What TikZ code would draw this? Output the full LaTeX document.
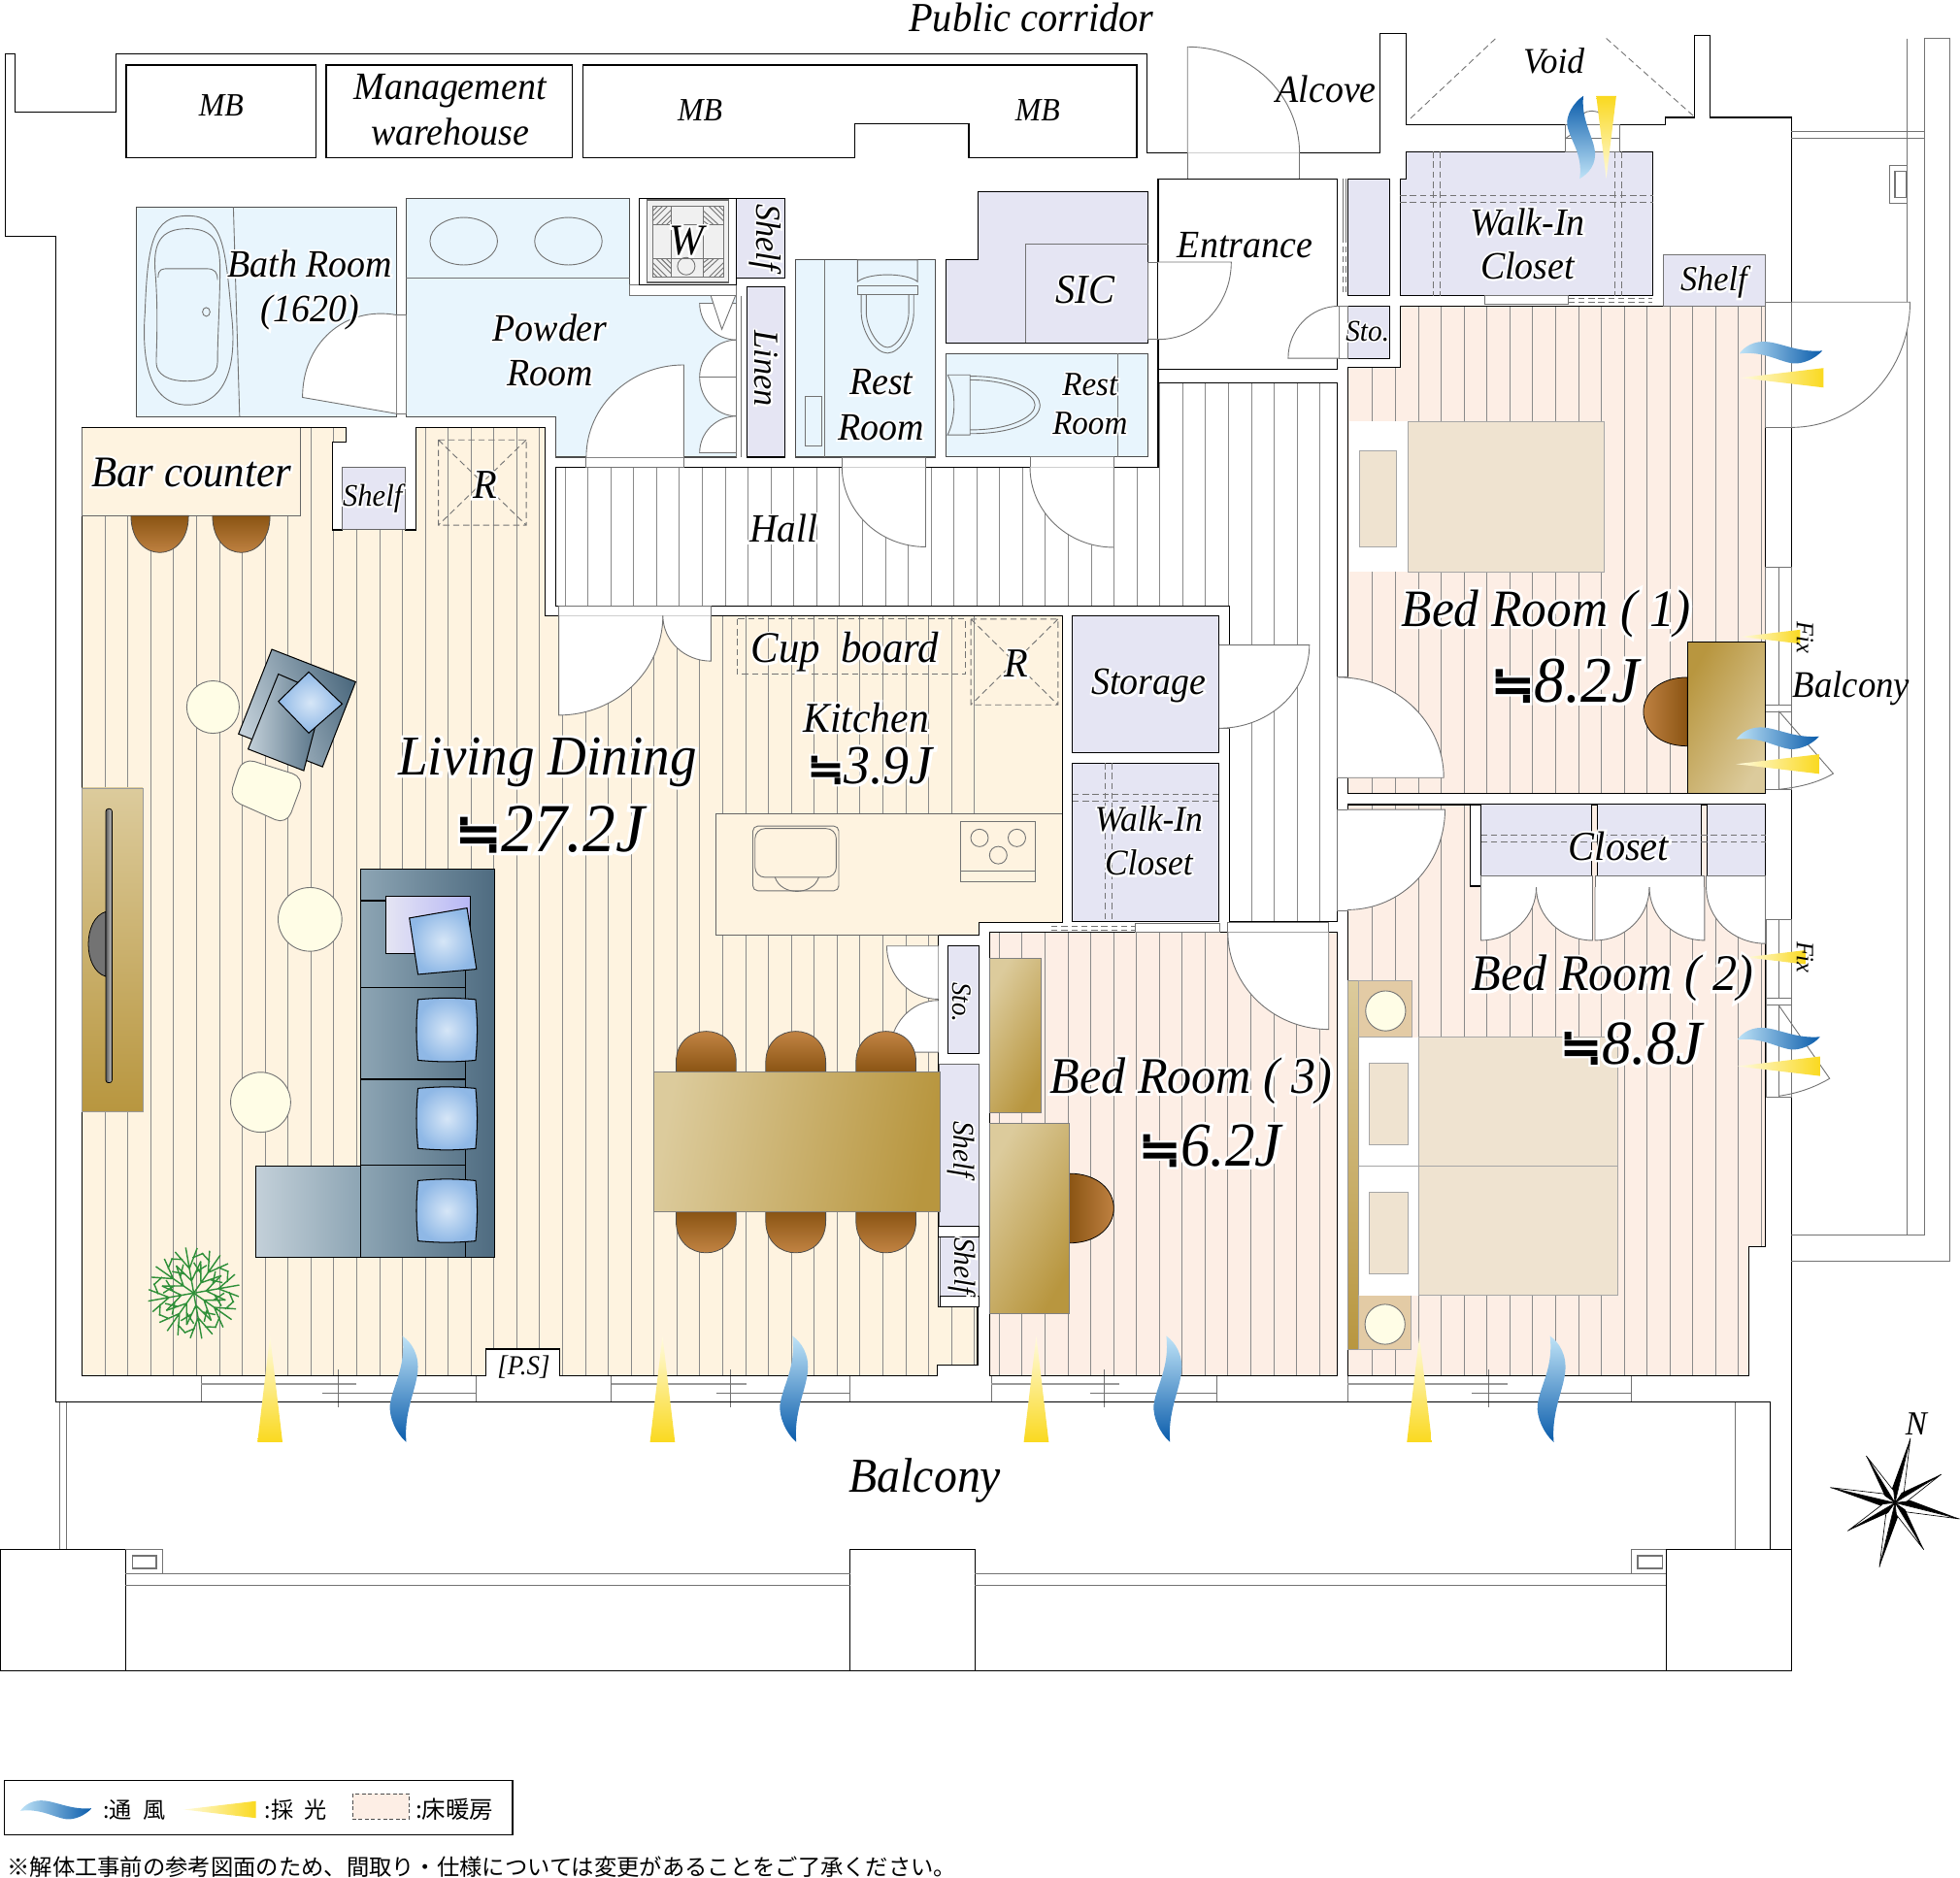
\documentclass[tikz,border=0pt]{standalone}
\usepackage{fontspec}
\usetikzlibrary{calc}
\setmainfont[FakeStretch=0.95]{Liberation Serif}
\newfontfamily\haloFont[FakeStretch=0.95,FakeBold=10]{Liberation Serif}
\newfontfamily\cjk{Noto Sans CJK JP}
\newfontfamily\nearlyFont[Scale=0.8,FakeBold=3]{DejaVu Sans}
\newfontfamily\nearlyHalo[Scale=0.8,FakeBold=12]{DejaVu Sans}
\definecolor{floorLD}{HTML}{FEF3E0}
\definecolor{floorBed}{HTML}{FDEEE5}
\definecolor{wetBlue}{HTML}{E8F5FD}
\definecolor{closetLav}{HTML}{E5E5F3}
\definecolor{bedTan}{HTML}{EFE3D0}
\definecolor{standTan}{HTML}{E3CBA5}
\definecolor{lampCream}{HTML}{FFFDE6}
\definecolor{goldA}{HTML}{DCCB9C}
\definecolor{goldB}{HTML}{B8963F}
\definecolor{chairA}{HTML}{8A5413}
\definecolor{chairB}{HTML}{D09050}
\definecolor{windA}{HTML}{BFE3F7}
\definecolor{windB}{HTML}{0A5CAB}
\definecolor{rayA}{HTML}{FFFBE0}
\definecolor{rayB}{HTML}{FAD91F}
\definecolor{sofaA}{HTML}{C3D0D9}
\definecolor{sofaB}{HTML}{8DA5B4}
\definecolor{sofaC}{HTML}{4E6B80}
\definecolor{pillowA}{HTML}{D6E6F7}
\definecolor{pillowB}{HTML}{8FB8E6}
\definecolor{hatchGrey}{HTML}{8A8A8A}
\definecolor{plantGreen}{HTML}{2E8F38}
\newcommand\Sz[2]{\fontsize{#1}{#2}\selectfont\itshape}
% white emboldened pass under the black text
\newcommand\Hl[1]{\leavevmode\rlap{\color{white}\haloFont\let\nearlyFont\nearlyHalo #1}#1}
\newcommand\Nearly{{\nearlyFont\upshape ≒}}
\tikzset{
	lab/.style={inner sep=0pt,align=center},
	wallline/.style={draw=black,line width=0.45pt},
	thin grey/.style={draw=black!55,line width=0.35pt},
	dash grey/.style={draw=black!55,line width=0.35pt,dash pattern=on 2.5pt off 1.5pt},
	closet/.style={fill=closetLav,draw=black,line width=0.4pt},
	wet/.style={fill=wetBlue,draw=black!70,line width=0.4pt},
	windv/.style={top color=windA,bottom color=windB},
	windh/.style={left color=windA,right color=windB,x={(0pt,0.5pt)},y={(0.5pt,0pt)}},
	rayv/.style={top color=rayA,bottom color=rayB},
	rayh/.style={left color=rayA,right color=rayB,x={(0pt,0.5pt)},y={(0.5pt,0pt)}},
}
\begin{document}
\begin{tikzpicture}[x=0.5pt,y=-0.5pt]
	\newcommand\WavePath{(0,0) .. controls (7,5) and (14,15) .. (12,30) .. controls (10,45) and (1,62) .. (3,85) .. controls (-5,78) and (-11,65) .. (-10,55) .. controls (-8,40) and (3,25) .. (0,0) -- cycle}
	\newcommand\RayPath{(0,0) -- (10,85) -- (-10,85) -- cycle}
	\newcommand\Wave[2]{\shade[shift={(#2)},#1] \WavePath;}
	\newcommand\Ray[2]{\shade[shift={(#2)},#1] \RayPath;}
	\newcommand\Room[4]{
		\begin{scope}
			\clip #1;
			\fill[#2] (0,0) rectangle (1568,1200);
			\foreach \hx in {#3} \draw[draw=hatchGrey,line width=0.3pt] (\hx,0) -- (\hx,1200);
		\end{scope}
		\draw[wallline] #1;
	}
	\newcommand\Leaf[3]{\filldraw[fill=white,thin grey] (#1) -- (#2) .. controls ($(#2)+.5523*(#3)-.5523*(#1)$) and ($(#3)+.5523*(#2)-.5523*(#1)$) .. (#3);}
	\newcommand\Pillow[4]{\shade[inner color=pillowA,outer color=pillowB,draw=black,line width=0.4pt] (#1,#2) to[bend left=5] (#3,#2) to[bend left=5] (#3,#4) to[bend left=5] (#1,#4) to[bend left=5] cycle;}
	\newcommand\ChairUp[1]{\shade[top color=chairB,bottom color=chairA,draw=black!70,line width=0.3pt] (#1-24,857.7) -- (#1-24,850) .. controls (#1-24,817) and (#1+24,817) .. (#1+24,850) -- (#1+24,857.7) -- cycle;}
	\newcommand\ChairDown[1]{\shade[top color=chairA,bottom color=chairB,draw=black!70,line width=0.3pt] (#1-24,969.7) -- (#1-24,977) .. controls (#1-24,1011) and (#1+24,1011) .. (#1+24,977) -- (#1+24,969.7) -- cycle;}
	\useasboundingbox (0,0) rectangle (1568,1502);

	% outer walls
	\draw[wallline] (4,43) -- (12,43) -- (12,90) -- (93,90) -- (93,43) -- (917.4,43) -- (917.4,122.5) -- (1104,122.5) -- (1104,26.5) -- (1125,26.5) -- (1125,100) -- (1332,100) -- (1332,94) -- (1355.6,94) -- (1355.6,28.6) -- (1368,28.6) -- (1368,94) -- (1433,94) -- (1433,1337);
	\draw[wallline] (4,43) -- (4,189) -- (44.6,189) -- (44.6,1121.7) -- (1416,1121.7) -- (1416,1240) -- (1333,1240);

	% balconies
	\draw[thin grey] (48,1121.7) -- (48,1240) (53,1121.7) -- (53,1240) (1388.4,1121.7) -- (1388.4,1240);
	\draw[wallline] (0,1240) rectangle (100.5,1337);
	\draw[wallline] (680,1240) rectangle (780,1337);
	\draw[wallline] (1333,1240) rectangle (1433,1337);
	\draw[wallline] (100,1337) -- (1333,1337);
	\draw[thin grey,line width=0.6pt] (100.5,1259.4) -- (680,1259.4) (780,1259.4) -- (1333,1259.4);
	\draw[thin grey,line width=0.6pt] (100.5,1268.5) -- (680,1268.5) (780,1268.5) -- (1333,1268.5);
	\draw[thin grey] (100.5,1240) -- (130,1240) -- (130,1259.4) (1305,1259.4) -- (1305,1240) -- (1333,1240);
	\draw[thin grey,line width=0.6pt] (106,1245) rectangle (125,1255);
	\draw[thin grey,line width=0.6pt] (1310,1245) rectangle (1330,1255);
	\draw[thin grey] (1433,105) -- (1539.4,105) (1433,111) -- (1539.4,111);
	\draw[thin grey] (1526,30.7) -- (1526,988.4) -- (1433,988.4) (1539.4,111) -- (1539.4,988.4) -- (1526,988.4);
	\draw[thin grey] (1539.4,111) -- (1539.4,30.7) -- (1560,30.7) -- (1560,1009) -- (1433,1009);
	\draw[thin grey] (1526,132) -- (1511.6,132) -- (1511.6,163) -- (1526,163);
	\draw[thin grey,line width=0.6pt] (1516,137) rectangle (1525,158);

	% storage along corridor
	\draw[wallline] (101,52) rectangle (252.6,126.5);
	\draw[wallline] (261,52) rectangle (458,126.5);
	\draw[wallline] (466.5,52) -- (909.4,52) -- (909.4,126.5) -- (775,126.5) -- (775,99) -- (684,99) -- (684,126.5) -- (466.5,126.5) -- cycle;

	% floors
	\Room{(65.5,342) -- (277,342) -- (277,354) -- (266,354) -- (266,424) -- (274,424) -- (274,374) -- (324.4,374) -- (324.4,424) -- (333,424) -- (333,342) -- (436,342) -- (436,492.6) -- (850,492.6) -- (850,738) -- (783.3,738) -- (783.3,748) -- (750.7,748) -- (750.7,1045.8) -- (782,1045.8) -- (782,1092.4) -- (750,1092.4) -- (750,1100.7) -- (448,1100.7) -- (448,1079.5) -- (389,1079.5) -- (389,1100.7) -- (65.5,1100.7) -- cycle}{floorLD}{84,102.3,...,790}{}
	\Room{(444.3,374) -- (926.5,374) -- (926.5,306.5) -- (1070,306.5) -- (1070,737.4) -- (983.7,737.4) -- (983.7,485) -- (444.3,485) -- cycle}{white}{452,470.3,...,1070}{}
	\Room{(1120,245) -- (1412,245) -- (1412,635) -- (1078,635) -- (1078,294) -- (1120,294) -- cycle}{floorBed}{1098,1116.3,...,1412}{}
	\Room{(1078,643.8) -- (1412.3,643.8) -- (1412.3,997.7) -- (1399,997.7) -- (1399,1100.7) -- (1078,1100.7) -- cycle}{floorBed}{1098,1116.3,...,1412}{}
	\Room{(792,746) -- (1070,746) -- (1070,1100.7) -- (792,1100.7) -- cycle}{floorBed}{799.3,817.6,...,1070}{}

	% wet rooms
	\filldraw[wet] (109,165.7) rectangle (317,333.5);
	\draw[thin grey] (186.7,165.7) -- (191.7,333.5);
	\draw[thin grey] (150,172.7) .. controls (122,172.7) and (118,195) .. (116,250) .. controls (113,290) and (120,324) .. (150,324) .. controls (182,324) and (190,290) .. (185,250) .. controls (180,195) and (178,172.7) .. (150,172.7) -- cycle;
	\draw[thin grey] (150,183) .. controls (128,183) and (123,195) .. (124,215) .. controls (127,250) and (125,280) .. (125,290) .. controls (125,300) and (135,305) .. (150,305) .. controls (165,305) and (174,300) .. (174,290) .. controls (174,270) and (176,240) .. (176,215) .. controls (176,195) and (172,183) .. (150,183) -- cycle;
	\draw[thin grey] (126.5,222) .. controls (126.5,215) and (130,215) .. (135,215) -- (165,215) .. controls (172,215) and (174,218) .. (174,224);
	\draw[thin grey] (165,249.6) ellipse (3 and 3.5);
	\filldraw[wet] (325,159) -- (503.7,159) -- (503.7,236.5) -- (589.4,236.5) -- (589.4,365.8) -- (444.3,365.8) -- (444.3,333.6) -- (325,333.6) -- cycle;
	\draw[thin grey] (325,222.6) -- (503.7,222.6);
	\draw[thin grey] (371,193) ellipse (27 and 19);
	\draw[thin grey] (454.7,193) ellipse (27 and 19);
	\filldraw[wet] (636.5,208) rectangle (748.4,365.8);
	\draw[thin grey] (660,208) -- (660,365.8);
	\filldraw[wet] (757,283) rectangle (918.5,365.5);
	\draw[thin grey] (894,283) -- (894,365.5);

	% toilets
	\draw[thin grey] (686,208) -- (734,208) -- (734,225.4) .. controls (725,218) and (695,218) .. (686,225.4) -- cycle;
	\draw[thin grey] (686,229) rectangle (734,236);
	\draw[thin grey] (689,236) -- (689,250) .. controls (689,265) and (700,282.6) .. (710,282.6) .. controls (720,282.6) and (731,265) .. (731,250) -- (731,236);
	\draw[thin grey] (693,236) -- (693,250) .. controls (693,262) and (702,278) .. (710,278) .. controls (718,278) and (727,262) .. (727,250) -- (727,236);
	\draw[thin grey] (644,317) rectangle (657,357);
	\draw[thin grey] (758,300) -- (776,300) -- (776,348) -- (758,348) .. controls (765,335) and (765,312) .. (758,300);
	\draw[thin grey] (776,301) .. controls (815,301) and (832,315) .. (832,324) .. controls (832,335) and (815,347) .. (776,347);
	\draw[thin grey] (776,304) .. controls (810,304) and (828,316) .. (828,324) .. controls (828,333) and (810,344) .. (776,344);

	% washer pan
	\draw[thin grey,fill=white] (503.7,228) rectangle (589.4,236.5);
	\filldraw[fill=white,draw=black] (511.6,158.8) rectangle (589.4,228);
	\filldraw[fill=black!6,draw=black!60,line width=0.4pt] (517.6,160) rectangle (583,226);
	\draw[thin grey] (522,165) rectangle (579,222);
	\draw[thin grey] (537,165) -- (537,222) (563,165) -- (563,222) (522,180) -- (579,180) (522,207) -- (579,207);
	\foreach \hoff in {4,8,12} \draw[thin grey] (522+\hoff,165) -- (522,165+\hoff) (537-\hoff,180) -- (537,180-\hoff) (563+\hoff,165) -- (579,181-\hoff) (563,165+\hoff) -- (579-\hoff,180) (522+\hoff,222) -- (522,222-\hoff) (537,207+\hoff) -- (537-\hoff,207) (563+\hoff,222) -- (579,206+\hoff) (563,222-\hoff) -- (579-\hoff,207);
	\draw[thin grey] (549,213) circle (7);

	% closets
	\filldraw[closet] (589.4,158.8) rectangle (628,222.6);
	\filldraw[closet] (597.3,229.5) rectangle (628,365.8);
	\filldraw[closet] (782.6,153.3) -- (918.5,153.3) -- (918.5,274.5) -- (757,274.5) -- (757,207.6) -- (782.6,207.6) -- cycle;
	\draw[thin grey] (820.5,274.5) -- (820.5,195.4) -- (918.5,195.4);
	\filldraw[closet] (1078,143) rectangle (1112,236.6);
	\filldraw[closet] (1078,245) rectangle (1112,286.7);
	\filldraw[closet] (1125,121.3) -- (1322.3,121.3) -- (1322.3,236.6) -- (1120,236.6) -- (1120,143) -- (1125,143) -- cycle;
	\draw[dash grey] (1146.6,121.3) -- (1146.6,236.6) (1152,121.3) -- (1152,236.6) (1292,121.3) -- (1292,236.6) (1297.6,121.3) -- (1297.6,236.6) (1120,156.6) -- (1322.3,156.6) (1120,162) -- (1322.3,162);
	\filldraw[closet,draw=black!55,line width=0.35pt] (1331,204.2) rectangle (1412,245);
	\filldraw[closet] (858,492.6) rectangle (975.4,602);
	\filldraw[closet] (858,610.5) rectangle (975.4,737.4);
	\draw[dash grey] (884,610.5) -- (884,737.4) (889.5,610.5) -- (889.5,737.4) (858,635.8) -- (975.4,635.8) (858,641) -- (975.4,641);
	\filldraw[closet,draw=black!60,line width=0.4pt] (274,374) rectangle (324.4,424);
	\filldraw[closet] (758.7,757) rectangle (783.3,843);
	\filldraw[closet,draw=black!60,line width=0.4pt] (751.7,851.5) rectangle (783.3,981);
	\filldraw[closet,draw=black!60,line width=0.4pt] (752.4,989.5) rectangle (783.3,1037);
	\draw[wallline,fill=white] (750.7,981) rectangle (783.3,989.5);
	\draw[wallline,fill=white] (752.4,1037) rectangle (783.3,1045.8);
	\filldraw[closet] (1184.7,643.8) rectangle (1273.5,700.8);
	\filldraw[closet] (1278,643.8) rectangle (1361,700.8);
	\filldraw[closet] (1366,643.8) rectangle (1412.3,700.8);
	\draw[dash grey] (1184.7,668) -- (1412.3,668) (1184.7,674) -- (1412.3,674);
	\filldraw[fill=white,wallline] (1176.4,643.8) -- (1184.4,643.8) -- (1184.4,709) -- (1176.4,709) -- cycle;
	\draw[thin grey,fill=white] (1184.7,700.8) rectangle (1274,710);
	\draw[thin grey,fill=white] (1276,700.8) rectangle (1363.6,710);
	\draw[thin grey,fill=white] (1365,700.8) rectangle (1412.3,710);

	% bars above wardrobes, dashed rails
	\draw[thin grey] (1188,236.6) rectangle (1254.6,243.4);
	\draw[dash grey] (1254.6,238.5) -- (1322,238.5) (1254.6,241.5) -- (1322,241.5);
	\draw[thin grey] (908.5,739) rectangle (975.4,745.7);
	\draw[dash grey] (841,741) -- (908.5,741) (841,744.5) -- (908.5,744.5);
	\draw[thin grey] (1074.4,143) -- (1074.4,189) (1076.5,143) -- (1076.5,189);
	\draw[dash grey] (1074.4,189) -- (1074.4,236.6) (1076.5,189) -- (1076.5,236.6);

	% frames at the doors
	\draw[thin grey] (950,122.5) rectangle (1039.6,143);
	\draw[wallline] (926.5,143) rectangle (1070,295.6);
	\draw[wallline] (926.5,295.6) -- (926.5,374);
	\draw[thin grey] (317,252) rectangle (325,331);
	\draw[thin grey] (469,365.8) rectangle (547,373.8);
	\draw[thin grey] (673.6,365.8) rectangle (740.5,373.8);
	\draw[thin grey] (824,365.5) rectangle (891,373.8);
	\draw[thin grey] (918.5,209.7) rectangle (926.5,271.6);
	\draw[thin grey] (447,485) rectangle (568.8,492.6);
	\draw[thin grey] (975.4,516.2) rectangle (983.7,582.7);
	\draw[thin grey] (982.3,738) rectangle (1063,746);
	\draw[thin grey] (1070,648) rectangle (1078,729);
	\draw[thin grey] (1070,542) rectangle (1078,622.3);
	\draw[thin grey] (1071,245) rectangle (1078,286.7);

	% doors
	\Leaf{950,122.5}{950,37.5}{1039.6,122.5}
	\Leaf{317,331}{242,318}{317,252}
	\Leaf{547,365.8}{547,292}{469,365.8}
	\Leaf{740.5,373.8}{740.5,437.6}{673.6,373.8}
	\Leaf{891,373.8}{891,438}{824,373.8}
	\Leaf{926.5,209.7}{985,209.7}{926.5,271.6}
	\Leaf{1071,286.7}{1030.5,286.7}{1071,245}
	\Leaf{1433,241.7}{1528,241.7}{1433,342}
	\Leaf{1071,622.3}{1155,622.3}{1071,542}
	\Leaf{447,492.6}{447,572.3}{530.3,492.6}
	\Leaf{568.8,492.6}{568.8,529}{530.3,492.6}
	\Leaf{975.4,516.2}{1047.5,516.2}{975.4,582.7}
	\Leaf{1063,746}{1063,823.7}{982.3,746}
	\Leaf{1078,647.8}{1156,647.8}{1078,728}
	\Leaf{1184.7,710}{1184.7,752.5}{1229,710}
	\Leaf{1274,710}{1274,752.5}{1229,710}
	\Leaf{1276,710}{1276,752.5}{1319.5,710}
	\Leaf{1363.6,710}{1363.6,752.5}{1319.5,710}
	\Leaf{1412.3,710}{1412.3,755}{1365,710}
	\Leaf{750.7,757}{709.4,757}{750.7,799.5}
	\Leaf{750.7,842}{712,842}{750.7,800.5}
	\Leaf{589.4,242.7}{559.7,242.7}{589.4,272}
	\Leaf{589.4,301.7}{559.7,301.7}{589.4,272}
	\Leaf{589.4,301.7}{559.7,301.7}{589.4,333}
	\Leaf{589.4,362.3}{559.7,362.3}{589.4,333}
	\draw[thin grey] (589.4,236.5) -- (589.4,365.8) (593,236.5) -- (593,365.8);
	\filldraw[fill=white,thin grey] (568.6,236.5) -- (588.4,236.5) -- (577.5,263.5) -- cycle;
	\filldraw[fill=white,thin grey] (1423,569) -- (1466.6,619) .. controls (1455,626) and (1440,630) .. (1423,631.6);
	\filldraw[fill=white,thin grey] (1423,804.5) -- (1463.7,863) .. controls (1452,870) and (1438,875) .. (1423,877);

	% windows on the balcony side
	\draw[thin grey,fill=white] (161,1100.7) rectangle (381,1121.7);
	\draw[thin grey,fill=white] (489,1100.7) rectangle (680,1121.7);
	\draw[thin grey,fill=white] (793,1100.7) rectangle (973.5,1121.7);
	\draw[thin grey,fill=white] (1078,1100.7) rectangle (1305,1121.7);
	\draw[black!40,line width=1pt] (161,1107.5) -- (285,1107.5) (489,1107.5) -- (597,1107.5) (793,1107.5) -- (895.2,1107.5) (1078,1107.5) -- (1206.2,1107.5);
	\draw[thin grey] (257.5,1114.7) -- (381,1114.7) (573,1114.7) -- (680,1114.7) (872.5,1114.7) -- (973.5,1114.7) (1177.4,1114.7) -- (1305,1114.7);
	\draw[thin grey] (270.4,1096) -- (270.4,1126) (584.5,1096) -- (584.5,1126) (883.6,1096) -- (883.6,1126) (1191,1096) -- (1191,1126);
	\draw[wallline] (65.5,1100.7) -- (389,1100.7) (448,1100.7) -- (750,1100.7) (792,1100.7) -- (1070,1100.7) (1078,1100.7) -- (1399,1100.7);
	\draw[wallline] (44.6,1121.7) -- (1416,1121.7);

	% windows on the east side
	\draw[thin grey,fill=white] (1412,241.7) rectangle (1433,342);
	\draw[thin grey] (1412,454) rectangle (1433,564);
	\draw[thin grey] (1423,454) -- (1423,564);
	\draw[thin grey] (1412,564) rectangle (1433,570);
	\draw[thin grey] (1412,570) rectangle (1433,631.6);
	\draw[thin grey] (1423,570) -- (1423,631.6);
	\draw[thin grey] (1413,735.6) rectangle (1433,798.6);
	\draw[thin grey] (1423,735.6) -- (1423,798.6);
	\draw[thin grey] (1413,798.6) rectangle (1433,804.5);
	\draw[thin grey] (1413,804.5) rectangle (1433,878);
	\draw[thin grey] (1423,804.5) -- (1423,878);

	% void
	\draw[dash grey] (1128.4,94.7) -- (1196.6,30.7) (1285,30.7) -- (1355.6,93.5);
	\draw[thin grey] (1252,100) rectangle (1295.5,121.3) (1252,111) -- (1295.5,111);
	\draw[thin grey] (1252,111) -- (1268,100) (1262,100) .. controls (1262,85) and (1285,85) .. (1285,100);

	% kitchen
	\filldraw[fill=floorLD,draw=black!60,line width=0.4pt] (573,651.4) -- (850,651.4) -- (850,738) -- (783.3,738) -- (783.3,748) -- (573,748) -- cycle;
	\draw[wallline] (850,492.6) -- (850,738) -- (783.3,738) -- (783.3,748) -- (750.7,748);
	\draw[thin grey,rounded corners=2pt] (602.3,661) rectangle (671,712.8);
	\draw[thin grey,rounded corners=4pt] (604,663) -- (669,663) -- (669,702) -- (604,702) -- cycle;
	\draw[thin grey] (620,702) .. controls (625,717) and (650,717) .. (655,702);
	\draw[thin grey] (768.7,657.3) rectangle (828,705.2) (768.7,696.8) -- (828,696.8);
	\draw[thin grey] (783.6,670.5) circle (7) (813.5,670.5) circle (7) (798.6,684.3) circle (7);
	\draw[dash grey] (589.5,495.4) rectangle (772.5,539.4);
	\draw[dash grey] (776.7,495.4) rectangle (846.4,564) (776.7,495.4) -- (846.4,564) (846.4,495.4) -- (776.7,564);
	\draw[dash grey] (350.7,352) rectangle (421,420.2) (350.7,352) -- (421,420.2) (421,352) -- (350.7,420.2);

	% bar counter
	\filldraw[fill=floorLD,draw=black!60,line width=0.4pt] (65.5,342) rectangle (240.7,412.6);
	\draw[wallline] (65.5,342) -- (240.7,342);
	\shade[top color=chairA,bottom color=chairB,draw=black!70,line width=0.3pt] (104.8,412.6) .. controls (104.8,452) and (150.8,452) .. (150.8,412.6) -- cycle;
	\shade[top color=chairA,bottom color=chairB,draw=black!70,line width=0.3pt] (170,412.6) .. controls (170,452) and (216,452) .. (216,412.6) -- cycle;

	% living room furniture
	\shade[top color=goldA,bottom color=goldB,draw=black!40,line width=0.3pt] (65.7,630.6) rectangle (114.2,889.6);
	\filldraw[fill=black!55,draw=black,line width=0.3pt] (84.7,729.5) .. controls (66,735) and (66,776) .. (84.7,781.4) -- cycle;
	\shade[left color=black!65,right color=black!20,draw=black,line width=0.3pt,rounded corners=1pt] (84.7,647.2) rectangle (89.6,866.4);
	\filldraw[fill=lampCream,thin grey] (170.4,565.8) circle (21);
	\filldraw[fill=lampCream,thin grey] (248,735.7) circle (25.5);
	\filldraw[fill=lampCream,thin grey] (208.5,882) circle (24);
	\filldraw[fill=lampCream,thin grey,rounded corners=5pt] (194,606.3) -- (243.5,622) -- (229.3,660) -- (183,639.3) -- cycle;
	\shade[left color=sofaA,right color=sofaC,shading angle=110,draw=black,line width=0.4pt] (217.5,519.6) -- (284.5,545.6) -- (258,613.6) -- (190.8,587.3) -- cycle;
	\shade[left color=sofaA,right color=sofaC,draw=black,line width=0.4pt] (222.7,539.4) -- (259,555) -- (243,616.7) -- (198.5,599.4) -- cycle;
	\shade[inner color=pillowA,outer color=pillowB,draw=black,line width=0.4pt] (247,537.7) -- (273.7,563.3) -- (247,586.6) -- (222.7,561.3) -- cycle;
	\shade[left color=sofaB,right color=sofaC,draw=black,line width=0.4pt] (288.3,695.8) rectangle (396,1006);
	\shade[left color=sofaA,right color=sofaB,draw=black,line width=0.4pt] (204.4,933) rectangle (288.3,1006);
	\draw[black,line width=0.4pt] (372.5,776) -- (372.5,1006) (288.3,720.7) -- (308.7,720.7) (288.3,790) -- (372.5,790) (288.3,863.6) -- (372.5,863.6) (288.3,932.3) -- (372.5,932.3);
	\shade[left color=closetLav,right color=closetLav!80!blue,draw=black,line width=0.4pt] (308.7,717.3) -- (376,717.3) -- (376,763.4) -- (308.7,763.4) -- cycle;
	\shade[inner color=pillowA,outer color=pillowB,draw=black,line width=0.4pt] (327.5,734.6) -- (373.6,726.6) -- (381.2,775.5) -- (334.4,779.7) -- cycle;
	\Pillow{334.4}{799.8}{380.5}{848.4}
	\Pillow{334.4}{870.9}{380.5}{919}
	\Pillow{334.4}{944.7}{380.5}{993}

	% plant
	\foreach \plantAngle in {0,45,...,315} {
		\begin{scope}[shift={(155,1034.7)},rotate=\plantAngle+10]
			\draw[plantGreen,line width=0.55pt] (0,0) -- (37,0) (10,0) -- (24,10) (10,0) -- (24,-10) (20,0) -- (35,9) (20,0) -- (35,-9) (16,4) -- (20,14) (16,-4) -- (20,-14) (28,4) -- (30,13) (28,-4) -- (30,-13);
		\end{scope}
	}

	% dining table and chairs
	\ChairUp{564.9}
	\ChairUp{636.6}
	\ChairUp{708.8}
	\ChairDown{564.9}
	\ChairDown{636.6}
	\ChairDown{708.8}
	\shade[left color=goldA,right color=goldB,shading angle=80,draw=black!50,line width=0.3pt] (522.7,857.7) rectangle (752,969.7);

	% bedroom 1 furniture
	\filldraw[fill=white,draw=none] (1079.5,337) rectangle (1126,457.7);
	\filldraw[fill=bedTan,draw=black!35,line width=0.3pt] (1126,337) rectangle (1283,457.7);
	\filldraw[fill=bedTan,draw=black!35,line width=0.3pt] (1087.6,361) rectangle (1117.4,437.5);
	\shade[left color=chairB,right color=chairA,draw=black,line width=0.3pt] (1350,542) .. controls (1303,542) and (1303,597) .. (1350,597) -- cycle;
	\shade[left color=goldB,right color=goldA,shading angle=60,draw=black,line width=0.3pt] (1350,513.7) rectangle (1412,635);

	% bedroom 2 furniture
	\shade[top color=goldA,bottom color=goldB,draw=black!40,line width=0.3pt] (1078,785) rectangle (1087,1080);
	\filldraw[fill=standTan,draw=black!35,line width=0.3pt] (1087,785) rectangle (1129.7,830);
	\filldraw[fill=standTan,draw=black!35,line width=0.3pt] (1087,1036.5) rectangle (1129,1080);
	\filldraw[fill=lampCream,thin grey] (1108.5,808.9) circle (16);
	\filldraw[fill=lampCream,thin grey] (1108,1059.7) circle (16);
	\filldraw[fill=white,draw=none] (1087,830) rectangle (1135,1036.5);
	\filldraw[fill=bedTan,draw=black!35,line width=0.3pt] (1135,830) rectangle (1294.4,1036.5);
	\draw[black!35,line width=0.3pt] (1087,933) -- (1294.4,933);
	\filldraw[fill=bedTan,draw=black!35,line width=0.3pt] (1095.5,850.6) rectangle (1126,915.9);
	\filldraw[fill=bedTan,draw=black!35,line width=0.3pt] (1095.5,954) rectangle (1126,1019);

	% bedroom 3 furniture
	\shade[left color=goldA,right color=goldB,shading angle=60,draw=black!50,line width=0.3pt] (792,767.2) rectangle (832.5,890);
	\shade[left color=chairA,right color=chairB,draw=black,line width=0.3pt] (855,939) .. controls (903,939) and (903,994.7) .. (855,994.7) -- cycle;
	\shade[left color=goldA,right color=goldB,shading angle=60,draw=black!50,line width=0.3pt] (792,899) rectangle (855,1051);

	% wind and light
	\foreach \hx in {216,530,829,1135.5} {\Ray{rayv}{\hx,1069}}
	\Wave{windv}{322,1069}
	\Wave{windv}{634,1069}
	\Wave{windv}{933,1069}
	\Wave{windv}{1240,1069}
	\Wave{top color=windB,bottom color=windA,yscale=-.78}{1263.7,143}
	\Ray{top color=rayB,bottom color=rayA,yscale=-.78,xscale=.8}{1285,143}
	\Wave{windh,scale=.78}{1391.5,283}
	\Ray{rayh,scale=.78}{1392.5,302.3}
	\Ray{rayh,scale=.56}{1392.5,509.5}
	\Wave{windh,scale=.78}{1389,591.6}
	\Ray{rayh,scale=.78}{1389,611.4}
	\Ray{rayh,scale=.56}{1396.4,766}
	\Wave{windh,scale=.78}{1389.8,832}
	\Ray{rayh,scale=.78}{1389.8,853.2}

	% compass
	\coordinate (compass) at (1516,1202.5);
	\foreach \tipX/\tipY in {1528.3/1150.7,1503.5/1254,1567.6/1215.4,1464.2/1190.3,1553/1179.7,1539/1240,1478.2/1225,1493/1165} {
		\coordinate (tip) at (\tipX,\tipY);
		\fill[black] (compass) -- (tip) -- ($(compass)!0.22!25:(tip)$) -- cycle;
		\filldraw[fill=white,draw=black,line width=0.25pt] (compass) -- (tip) -- ($(compass)!0.22!-25:(tip)$) -- cycle;
	}

	% labels
	\node[lab,font=\Sz{16.5}{18}] (corridor) at (825,14) {Public corridor};
	\node[lab,font=\Sz{13}{15}] (mbA) at (177,84) {MB};
	\node[lab,font=\Sz{15.5}{18}] (warehouse) at (360,88) {Management\\warehouse};
	\node[lab,font=\Sz{13}{15}] (mbB) at (560,88) {MB};
	\node[lab,font=\Sz{13}{15}] (mbC) at (830,88) {MB};
	\node[lab,font=\Sz{15.5}{18}] (alcove) at (1061,71) {Alcove};
	\node[lab,font=\Sz{14.5}{17}] (void) at (1243,49) {Void};
	\node[lab,font=\Sz{15.5}{18}] (bath) at (248,232) {\Hl{Bath Room}\\\Hl{(1620)}};
	\node[lab,font=\Sz{15.5}{18}] (powder) at (440,280) {\Hl{Powder}\\\Hl{Room}};
	\node[lab,font=\Sz{17.5}{20}] (washer) at (549,193) {\Hl{W}};
	\node[lab,font=\Sz{14}{16},rotate=-90] (shelfA) at (612,190) {\Hl{Shelf}};
	\node[lab,font=\Sz{14}{16},rotate=-90] (linen) at (613,295) {\Hl{Linen}};
	\node[lab,font=\Sz{15.5}{18}] (restA) at (705,324) {\Hl{Rest}\\\Hl{Room}};
	\node[lab,font=\Sz{16.5}{19}] (sic) at (868,232) {\Hl{SIC}};
	\node[lab,font=\Sz{15.5}{18}] (entrance) at (996,196) {Entrance};
	\node[lab,font=\Sz{15.5}{17.5}] (wicA) at (1222,195) {\Hl{Walk-In}\\\Hl{Closet}};
	\node[lab,font=\Sz{14}{16}] (shelfB) at (1371,226) {\Hl{Shelf}};
	\node[lab,font=\Sz{12}{14}] (stoA) at (1094,265) {\Hl{Sto.}};
	\node[lab,font=\Sz{13.5}{15.5}] (restB) at (872,323) {\Hl{Rest}\\\Hl{Room}};
	\node[lab,font=\Sz{17.5}{20}] (bar) at (153,378) {\Hl{Bar counter}};
	\node[lab,font=\Sz{12.5}{14}] (shelfC) at (298,399) {\Hl{Shelf}};
	\node[lab,font=\Sz{16.5}{19}] (refA) at (388,388) {\Hl{R}};
	\node[lab,font=\Sz{16}{18}] (hall) at (627,423) {\Hl{Hall}};
	\node[lab,font=\Sz{17.5}{20}] (cup) at (676,522) {\Hl{Cup\ \ board}};
	\node[lab,font=\Sz{16.5}{19}] (refB) at (813,531) {\Hl{R}};
	\node[lab,font=\Sz{15.5}{18}] (storage) at (919,549) {\Hl{Storage}};
	\node[lab,font=\Sz{17}{20}] (kitchen) at (693,574) {\Hl{Kitchen}};
	\node[lab,font=\Sz{22}{25}] (kitchenArea) at (696,613) {\Hl{\Nearly3.9J}};
	\node[lab,font=\Sz{22.5}{26}] (living) at (438,610) {\Hl{Living Dining}};
	\node[lab,font=\Sz{27.5}{30}] (livingArea) at (440,664) {\Hl{\Nearly27.2J}};
	\node[lab,font=\Sz{21}{24}] (bedA) at (1237,491) {\Hl{Bed Room ( 1)}};
	\node[lab,font=\Sz{26}{29}] (bedAarea) at (1252,545) {\Hl{\Nearly8.2J}};
	\node[lab,font=\Sz{20.5}{23}] (bedB) at (1290,783) {\Hl{Bed Room ( 2)}};
	\node[lab,font=\Sz{25}{28}] (bedBarea) at (1305,835) {\Hl{\Nearly8.8J}};
	\node[lab,font=\Sz{20.5}{23}] (bedC) at (953,865) {\Hl{Bed Room ( 3)}};
	\node[lab,font=\Sz{25}{28}] (bedCarea) at (968,917) {\Hl{\Nearly6.2J}};
	\node[lab,font=\Sz{14.5}{17.5}] (wicB) at (919,673) {\Hl{Walk-In}\\\Hl{Closet}};
	\node[lab,font=\Sz{16.5}{19}] (closet) at (1295,677) {\Hl{Closet}};
	\node[lab,font=\Sz{10}{12},rotate=-90] (fixA) at (1444,510) {Fix};
	\node[lab,font=\Sz{10}{12},rotate=-90] (fixB) at (1444,766) {Fix};
	\node[lab,font=\Sz{15}{17}] (balconyA) at (1481,551) {Balcony};
	\node[lab,font=\Sz{19.5}{22}] (balconyB) at (740,1185) {Balcony};
	\node[lab,font=\Sz{11}{12}] (ps) at (419,1094) {[P.S]};
	\node[lab,font=\Sz{11}{13},rotate=-90] (stoB) at (769,802) {\Hl{Sto.}};
	\node[lab,font=\Sz{12}{14},rotate=-90] (shelfD) at (769,920) {\Hl{Shelf}};
	\node[lab,font=\Sz{12}{14},rotate=-90] (shelfE) at (770,1013) {\Hl{Shelf}};
	\node[lab,font=\Sz{13.5}{16}] (north) at (1533,1139) {N};

	% legend
	\draw[wallline] (3.3,1424.6) rectangle (410,1468);
	\Wave{windh,scale=.67}{16.3,1449}
	\Ray{rayh,scale=.68}{147,1448}
	\filldraw[fill=floorBed,draw=black!70,line width=0.3pt,dash pattern=on 1.5pt off 1pt] (282,1435.5) rectangle (327,1455.7);
	\node[inner sep=0pt,anchor=west,font=\cjk\fontsize{9}{10}\selectfont] (legendWind) at (82,1448) {:通\hspace{4.5pt}風};
	\node[inner sep=0pt,anchor=west,font=\cjk\fontsize{9}{10}\selectfont] (legendLight) at (211.4,1448) {:採\hspace{4.5pt}光};
	\node[inner sep=0pt,anchor=west,font=\cjk\fontsize{9.5}{10}\selectfont] (legendHeat) at (332,1448) {:床暖房};
	\node[inner sep=0pt,anchor=west,font=\cjk\fontsize{9.05}{11}\selectfont] (note) at (5.4,1493.7) {※解体工事前の参考図面のため、間取り・仕様については変更があることをご了承ください。};
\end{tikzpicture}
\end{document}
